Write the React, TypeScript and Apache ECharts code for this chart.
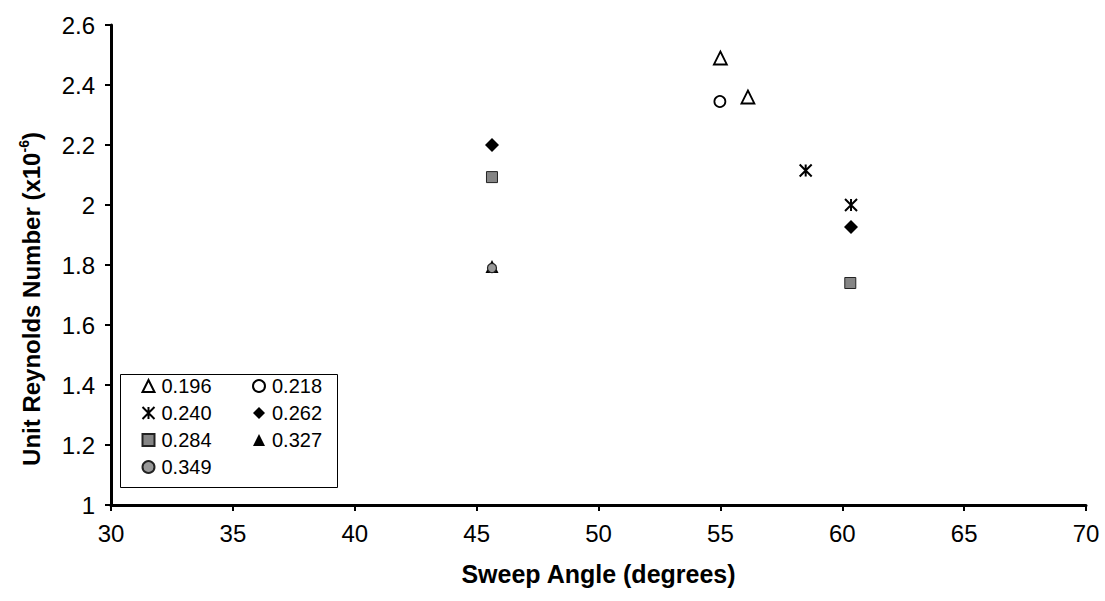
import React, { useEffect, useRef } from "react";
import * as echarts from "echarts";

const xTicks = [30, 70, 5];
const yTicks = [1, 2.6, 0.2];

const seriesNames = ["0.196", "0.218", "0.240", "0.262", "0.284", "0.327", "0.349"];
const s0196: number[][] = [[55.0, 2.49], [56.13, 2.36]];
const s0218: number[][] = [[54.98, 2.345]];
const s0240: number[][] = [[58.5, 2.115], [60.36, 2.0]];
const s0262: number[][] = [[45.63, 2.2], [60.36, 1.927]];
const s0284: number[][] = [[45.63, 2.093], [60.33, 1.74]];
const s0327: number[][] = [[45.63, 1.795]];
const s0349: number[][] = [[45.63, 1.79]];

const FONT = "'Liberation Sans', Arial, sans-serif";
const STAR = "path://M0,0 L10,10 M10,0 L0,10 M5,0 L5,10";

export default function App() {
  const ref = useRef<HTMLDivElement>(null);
  useEffect(() => {
    if (!ref.current) return;
    const chart = echarts.init(ref.current, null, { renderer: "svg" });
    const mk = (name: string, data: number[][], symbol: string, size: number, style: any) => ({
      name,
      type: "scatter",
      data,
      symbol,
      symbolSize: size,
      itemStyle: { opacity: 1, ...style },
    });
    const series = [
      mk(seriesNames[0], s0196, "triangle", 13, { color: "#fff", borderColor: "#000", borderWidth: 1.8 }),
      mk(seriesNames[1], s0218, "circle", 11, { color: "#fff", borderColor: "#000", borderWidth: 1.8 }),
      mk(seriesNames[2], s0240, STAR, 12, { color: "none", borderColor: "#000", borderWidth: 2 }),
      mk(seriesNames[3], s0262, "diamond", 14, { color: "#000", borderColor: "#000", borderWidth: 0 }),
      mk(seriesNames[4], s0284, "rect", 11, { color: "#858585", borderColor: "#222", borderWidth: 1 }),
      mk(seriesNames[5], s0327, "triangle", 13, { color: "#000", borderColor: "#000", borderWidth: 0 }),
      mk(seriesNames[6], s0349, "circle", 9, { color: "#999", borderColor: "#222", borderWidth: 1.2 }),
    ];
    const legendText = { fontFamily: FONT, fontSize: 20, color: "#000", lineHeight: 24, padding: [0, 0, 0, 2] };
    chart.setOption({
      animation: false,
      backgroundColor: "#fff",
      grid: { left: 111, right: 19, top: 25, bottom: 96 },
      xAxis: {
        type: "value",
        min: xTicks[0],
        max: xTicks[1],
        interval: xTicks[2],
        name: "Sweep Angle (degrees)",
        nameLocation: "middle",
        nameGap: 56,
        nameTextStyle: { fontFamily: FONT, fontSize: 25, fontWeight: "bold", color: "#000" },
        axisLine: { lineStyle: { color: "#000", width: 3 } },
        axisTick: { show: true, length: 6, lineStyle: { color: "#000", width: 2 } },
        axisLabel: { fontFamily: FONT, fontSize: 24, color: "#000", margin: 16 },
        splitLine: { show: false },
      },
      yAxis: {
        type: "value",
        min: yTicks[0],
        max: yTicks[1],
        interval: yTicks[2],
        axisLine: { show: true, lineStyle: { color: "#000", width: 3 } },
        axisTick: { show: true, length: 6, lineStyle: { color: "#000", width: 2 } },
        axisLabel: { fontFamily: FONT, fontSize: 24, color: "#000", margin: 16 },
        splitLine: { show: false },
      },
      legend: [
        {
          orient: "vertical",
          left: 140,
          top: 374,
          padding: 0,
          itemWidth: 12,
          itemHeight: 12,
          itemGap: 3,
          data: [seriesNames[0], seriesNames[2], seriesNames[4], seriesNames[6]],
          textStyle: legendText,
        },
        {
          orient: "vertical",
          left: 252,
          top: 374,
          padding: 0,
          itemWidth: 12,
          itemHeight: 12,
          itemGap: 3,
          data: [seriesNames[1], seriesNames[3], seriesNames[5]],
          textStyle: legendText,
        },
      ],
      graphic: [
        {
          type: "rect",
          shape: { x: 120.5, y: 374.5, width: 217, height: 113 },
          style: { fill: "none", stroke: "#000", lineWidth: 1 },
          z: 100,
        },
        {
          type: "text",
          x: 31,
          y: 299,
          rotation: Math.PI / 2,
          style: {
            text: "{a|Unit Reynolds Number (x10}{s|-6}{a|)}",
            align: "center",
            verticalAlign: "middle",
            rich: {
              a: { fontFamily: FONT, fontSize: 24, fontWeight: "bold", fill: "#000", lineHeight: 28 },
              s: { fontFamily: FONT, fontSize: 14, fontWeight: "bold", fill: "#000", verticalAlign: "top", lineHeight: 28 },
            },
          },
        },
      ],
      series,
    });
    return () => chart.dispose();
  }, []);
  return <div ref={ref} style={{ width: 1105, height: 601, position: "absolute", left: 0, top: 0 }} />;
}
